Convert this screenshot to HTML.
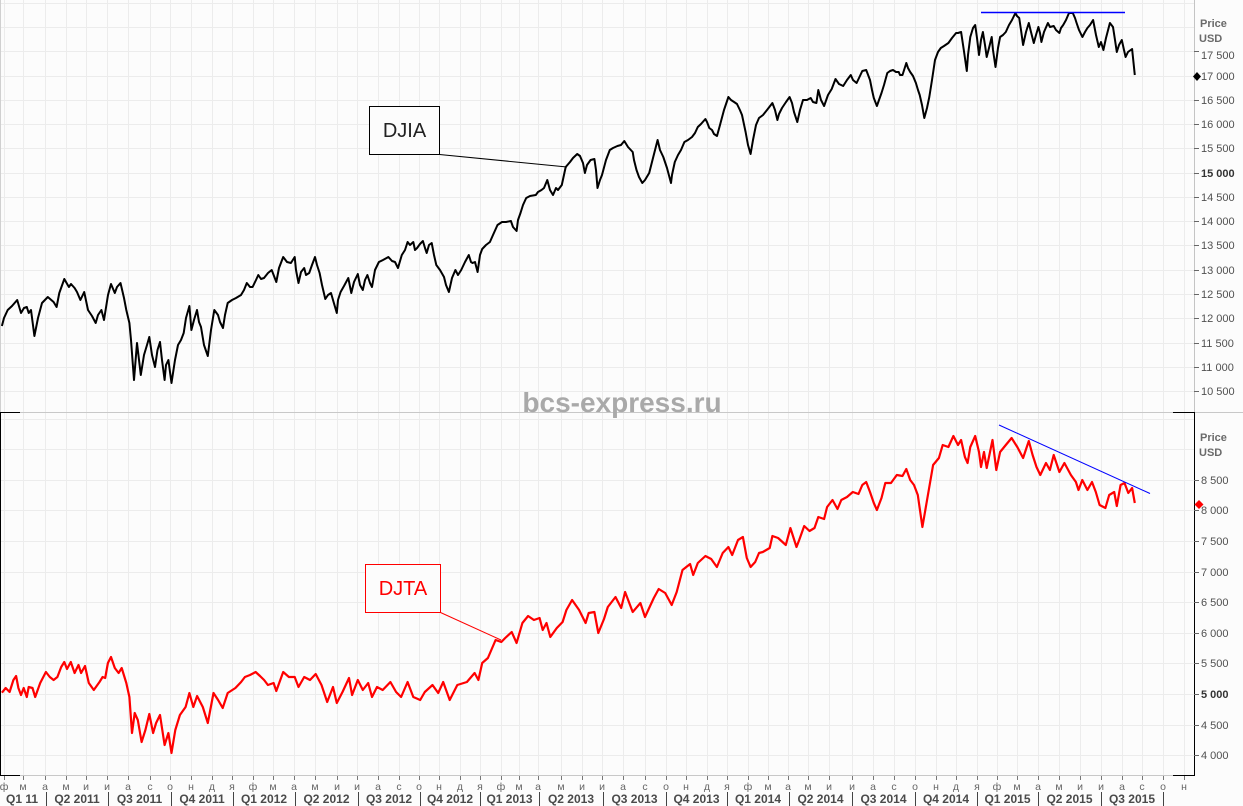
<!DOCTYPE html>
<html><head><meta charset="utf-8"><style>
html,body{margin:0;padding:0;background:#fcfcfc;}
svg{display:block;}
text{font-family:"Liberation Sans",sans-serif;}
</style></head><body>
<svg width="1243" height="806" viewBox="0 0 1243 806" xmlns="http://www.w3.org/2000/svg">
<rect x="0" y="0" width="1243" height="806" fill="#fcfcfc"/>
<g stroke="#ececec" stroke-width="1" shape-rendering="crispEdges" fill="none">
<path d="M4.5 0V775M23.5 0V775M45.5 0V775M66.5 0V775M86.5 0V775M107.5 0V775M128.5 0V775M150.5 0V775M170.5 0V775M191.5 0V775M212.5 0V775M232.5 0V775M253.5 0V775M273.5 0V775M294.5 0V775M315.5 0V775M337.5 0V775M357.5 0V775M378.5 0V775M399.5 0V775M419.5 0V775M439.5 0V775M460.5 0V775M480.5 0V775M501.5 0V775M519.5 0V775M538.5 0V775M561.5 0V775M582.5 0V775M602.5 0V775M623.5 0V775M645.5 0V775M666.5 0V775M686.5 0V775M707.5 0V775M727.5 0V775M748.5 0V775M768.5 0V775M788.5 0V775M808.5 0V775M829.5 0V775M852.5 0V775M873.5 0V775M894.5 0V775M915.5 0V775M936.5 0V775M956.5 0V775M977.5 0V775M997.5 0V775M1017.5 0V775M1038.5 0V775M1059.5 0V775M1080.5 0V775M1101.5 0V775M1122.5 0V775M1142.5 0V775M1163.5 0V775M1184.5 0V775"/>
<path d="M0 3.5H1194M0 27.5H1194M0 51.5H1194M0 76.5H1194M0 100.5H1194M0 124.5H1194M0 148.5H1194M0 173.5H1194M0 197.5H1194M0 221.5H1194M0 245.5H1194M0 270.5H1194M0 294.5H1194M0 318.5H1194M0 343.5H1194M0 367.5H1194M0 391.5H1194"/>
<path d="M0 419.5H1194M0 449.5H1194M0 480.5H1194M0 510.5H1194M0 541.5H1194M0 572.5H1194M0 602.5H1194M0 633.5H1194M0 663.5H1194M0 694.5H1194M0 725.5H1194M0 755.5H1194"/>
</g>
<!-- separators / axes -->
<g shape-rendering="crispEdges" fill="none">
<line x1="0" y1="412.5" x2="1243" y2="412.5" stroke="#c8c8c8"/>
<line x1="0.5" y1="0" x2="0.5" y2="412" stroke="#d0d0d0" stroke-width="1"/>
<line x1="1194.5" y1="0" x2="1194.5" y2="412" stroke="#c4c4c4"/>
<line x1="0" y1="775.5" x2="1194" y2="775.5" stroke="#c8c8c8"/>
<path d="M0.5 412V776M1194.5 412V776M0 412.5H20M1173 412.5H1195M0 775.5H20M1173 775.5H1195" stroke="#000"/>
</g>
<!-- watermark -->
<text x="622" y="412" font-size="28" font-weight="bold" fill="#a9a9a9" text-anchor="middle">bcs-express.ru</text>
<!-- DJIA series -->
<polyline fill="none" stroke="#000" stroke-width="2" stroke-linejoin="round" points="1.9,326 4,318 7.7,310 12,306 17.2,300 21,313 24,308 26.8,307 28.7,313 31,310 34.4,336 38,318 42,303 47.8,297 53.6,302 56.6,307 59.3,293 64.3,279 68.9,287 71,284 74.6,288 77,292 80.4,300 84.2,292 88,310 92,316 95.7,323 98,315 101.4,310 104,320 108,295 111,284 114.8,293 117,287 120.5,283 124,298 126.3,310 129.4,323 131,340 134,380 137,343 140.8,375 144,355 147,345 149.3,337 152,355 155,367 157.5,350 160,342 162,360 164.6,380 166,365 168.4,360 170,372 171.5,383 175,360 178,345 181,340 183.7,333 186,318 189.4,306 191.4,330 194,320 197,310 199,322 201,327 204,345 207.8,356 211,330 214.3,310 218,315 220,322 223,328 225,315 227.7,303 232,300 236,298 241,295 244,290 246.8,283 250,287 252.6,287 256,280 258.3,275 261,279 264,278 268,273 271.7,270 276.3,282 279,268 283.2,257 287,262 290.9,263 294.7,257 296,270 298.5,283 301,272 304.2,268 306,275 309.2,273 312,265 315,257 317,265 319.6,273 322,285 325.3,299 328,295 331,293 333,300 336.8,313 338,300 340.6,292 344,286 348.3,278 351.3,293 354,282 357.8,274 360,285 362.8,290 365,280 367.4,275 370,283 372,287 375,270 378.9,262 383,260 388.4,257 392,261 395,262 398,268 401.8,255 405,250 407.6,242 410,245 413.3,242 415,250 417.1,248 420,244 422.9,241 425,248 426.7,253 429,245 431.7,243 434,255 436.3,265 440,270 444,277 446,285 448.9,292 452,278 455.4,270 458,275 461.2,270 465,262 468.8,255 471,262 472.6,263 475,262 477.6,272 480,255 482.2,249 486,245 489.9,242 493,235 497.5,225 502,222 506,222 510.9,221 513,227 516.6,231 518,220 520.5,213 523,205 526.2,198 530,196 535.8,195 538,192 541.5,190 544,188 547.3,180 550,190 553,195 556,188 558,190 561.8,185 565.7,167 570,162 573,158 577.2,154 580,156 583,163 584.9,173 587,165 590.6,160 594.4,159 596,170 597.5,188 600,180 602,175 606,160 609.8,150 613,148 617.4,146 621,145 624.3,141 628,147 632.7,152 634,160 636.5,170 639,177 642.3,183 645,180 649.2,173 653,158 657.6,140 660,150 663.3,157 667,168 671,183 672,175 674.8,162 678,155 681,150 684.4,142 688,140 692,137 695,133 697.8,127 701,124 705.4,119 707,122 709.3,128 712,130 714,134 717,136 720,125 724,110 728.4,97 731,100 734.1,102 737,104 739.9,110 742,115 745.6,132 748,145 750.6,154 753,140 756,125 759,118 763,115 767,110 772.4,103 775,110 777.4,120 779,114 782,108 786,102 789.6,97 792,103 794,112 797.3,122 800,110 803,100 807,100 810.7,98 813,102 816.4,103 818.3,90 821,100 824.1,106 828,95 831.7,89 835.5,79 839,84 843.2,86 847,80 850.8,75 853,80 856.6,83 859,78 862.3,71 866.2,70 870,80 872,90 873.8,98 876.9,106 879,100 881.5,93 884,85 887.3,73 890,71 893,70 896,72 898.7,72 900,75 902.5,75 906.3,63 908,68 910.2,72 913,76 915.9,83 918,90 919.7,95 922,105 924.3,118 927,108 929.3,97 932,80 935,60 938,52 940.8,48 944,46 948.4,43 952,38 956.1,33 958,33 961.1,32 963.8,50 966.8,71 968,55 970.3,37 973,28 975.2,25 977,38 979,55 981,40 982.9,32 985,45 986.7,57 989,48 991.7,37 993,50 995.5,67 998,48 1000.1,37 1003,35 1005.8,32 1009,25 1012,20 1015.4,13 1017,16 1019.2,18 1021,30 1023.1,45 1026,32 1028.8,23 1031,32 1033.8,43 1036,35 1038.4,27 1040,33 1041.4,42 1044,32 1047.9,23 1050,27 1053.7,26 1056,30 1059.4,33 1061,28 1063.2,25 1066,20 1069,13 1072.8,13 1075,18 1076.6,23 1079,30 1082.4,37 1085,32 1087.4,28 1090,25 1093.1,20 1096,35 1098.8,47 1101,42 1103.4,50 1106,38 1109.9,23 1113,27 1115,40 1116.8,52 1119,45 1121.8,40 1124,50 1125.6,57 1128,52 1132.1,49 1134.8,75"/>
<!-- DJTA series -->
<polyline fill="none" stroke="#ff0000" stroke-width="2.2" stroke-linejoin="round" points="1.9,692.7 5.7,688 9.6,692 13.4,680 16.1,676 18.4,688 21,695 23.7,688 26.8,697 28.7,687 32.5,688 35.2,697 40.2,683 45.9,672 49.8,677 53.6,680 57.4,677 61.2,667 64.3,662 67,669 70.8,662 74.6,673 78.5,665 81.1,673 85,666 88.8,683 93.8,690 99.5,682 102.6,677 105.2,678 107.9,663 111,657 114.8,668 118.6,673 121.7,668 126.3,683 129.4,697 132,733 134.7,713 137.8,720 141.6,742 145.4,730 149.3,714 153.1,733 156.1,723 160,715 164.6,745 168.4,733 171.5,753 175.3,730 179.9,715 185.6,707 189.4,693 193.3,707 197.1,696 202.8,707 207.8,723 213.5,693 218.1,700 222.7,708 227.7,693 235.4,688 241.1,682 244.9,677 250,675 255.6,672 260,676 264.1,680 267.9,685 273.6,683 276.3,691 283.2,672 288.9,677 294.7,677 298.5,687 304.2,677 310,680 315.7,674 321.5,685 327.2,702 333,687 336.8,703 342.5,692 349,678 352.1,695 357.8,680 362.8,690 368.2,683 372,697 377,687 382.7,690 390.4,682 396.1,692 401.1,697 407.6,682 413.3,697 420.2,700 424.8,692 432.5,685 438.2,693 443.2,682 449.7,700 457.3,685 466.9,682 474.6,673 478.4,680 482.2,663 487.9,658 495.6,640 501.3,642 505.2,638 511.7,632 516.6,643 522.4,623 528.1,616 533.9,620 539.6,618 542.7,630 546.5,623 550.3,637 556.8,628 562.6,622 566.4,610 572.1,600 579.1,610 585.6,623 588.7,613 594.4,612 598.3,633 604,619 607.8,607 615.5,597 621.2,608 625.1,592 632.7,612 640.4,603 645,617 653.8,598 658.7,589 665.2,593 671.7,605 676.7,592 682.5,570 690.1,564 693.2,575 697.8,563 705.4,556 711.2,559 716.9,567 722.7,553 728.4,547 732.2,555 738,540 742.9,537 746.8,558 750.6,567 755.2,562 759,553 762.8,552 769.7,548 772.4,536 778.1,538 785.8,545 790.4,528 796.5,547 799.2,540 804.2,526 809.5,531 814.5,528 818.3,517 824.1,519 827.1,507 832.5,500 837.5,509 841.3,500 847,497 852.8,492 858.5,494 862.3,485 866.2,482 870,492 873.8,503 876.9,510 881.5,498 885.3,483 891,483 896.8,475 902.5,476 906.3,469 910.2,480 914,485 917.8,495 922.4,527 927.4,498 933.1,465 938.9,458 942.7,445 948.4,447 953.4,436 958,445 961.1,440 964.9,457 967.6,463 970.3,447 975.2,436 979,452 981,467 984,452 986.7,468 992.5,440 996.3,470 1000.1,452 1005.8,445 1011.6,438 1017.3,447 1023.1,458 1028.8,441 1032.6,455 1036.5,467 1040.3,475 1046,463 1049.9,470 1053.7,455 1059.4,472 1064.4,463 1070.9,475 1075.9,482 1078.5,490 1082.3,480 1087.4,490 1092,482 1095.8,492 1099.6,505 1105.4,508 1109.2,495 1114.2,492 1116.8,506 1120.6,485 1124.5,483 1128.3,493 1132.1,488 1134.8,503"/>
<!-- trend lines -->
<line x1="981" y1="12.5" x2="1125" y2="12.5" stroke="#0000ff" stroke-width="1.5"/>
<line x1="999" y1="425" x2="1150" y2="493.5" stroke="#0000ff" stroke-width="1"/>
<!-- annotations -->
<line x1="439.5" y1="154.5" x2="567" y2="167" stroke="#000" stroke-width="1"/>
<rect x="369.5" y="106.5" width="70" height="48" fill="#fcfcfc" stroke="#000" stroke-width="1"/>
<text x="404.5" y="137" font-size="20" fill="#222" text-anchor="middle">DJIA</text>
<line x1="440.5" y1="612.5" x2="501" y2="640" stroke="#ff0000" stroke-width="1"/>
<rect x="365.5" y="564.5" width="75" height="48" fill="#fcfcfc" stroke="#ff0000" stroke-width="1"/>
<text x="403" y="595" font-size="20" fill="#ff0000" text-anchor="middle">DJTA</text>
<!-- y-axis ticks -->
<g stroke="#666" shape-rendering="crispEdges">
<path d="M1194 51.5h5M1194 76.5h5M1194 100.5h5M1194 124.5h5M1194 148.5h5M1194 173.5h5M1194 197.5h5M1194 221.5h5M1194 245.5h5M1194 270.5h5M1194 294.5h5M1194 318.5h5M1194 343.5h5M1194 367.5h5M1194 391.5h5"/>
<path d="M1194 480.5h5M1194 510.5h5M1194 541.5h5M1194 572.5h5M1194 602.5h5M1194 633.5h5M1194 663.5h5M1194 694.5h5M1194 725.5h5M1194 755.5h5"/>
</g>
<g font-size="11" fill="#505050">
<text x="1200" y="27" font-weight="bold" fill="#6a6a6a">Price</text>
<text x="1199" y="42" font-weight="bold" fill="#6a6a6a">USD</text>
<text x="1201" y="59">17 500</text>
<text x="1201" y="80">17 000</text>
<text x="1201" y="104">16 500</text>
<text x="1201" y="128">16 000</text>
<text x="1201" y="152">15 500</text>
<text x="1201" y="177" font-weight="bold" fill="#333">15 000</text>
<text x="1201" y="201">14 500</text>
<text x="1201" y="225">14 000</text>
<text x="1201" y="249">13 500</text>
<text x="1201" y="274">13 000</text>
<text x="1201" y="298">12 500</text>
<text x="1201" y="322">12 000</text>
<text x="1201" y="347">11 500</text>
<text x="1201" y="371">11 000</text>
<text x="1201" y="395">10 500</text>
<text x="1200" y="441" font-weight="bold" fill="#6a6a6a">Price</text>
<text x="1199" y="456" font-weight="bold" fill="#6a6a6a">USD</text>
<text x="1201" y="484">8 500</text>
<text x="1201" y="514">8 000</text>
<text x="1201" y="545">7 500</text>
<text x="1201" y="576">7 000</text>
<text x="1201" y="606">6 500</text>
<text x="1201" y="637">6 000</text>
<text x="1201" y="667">5 500</text>
<text x="1201" y="698" font-weight="bold" fill="#333">5 000</text>
<text x="1201" y="729">4 500</text>
<text x="1201" y="759">4 000</text>
</g>
<!-- last value markers -->
<path d="M1197 72L1201 76.5L1197 81L1193 76.5Z" fill="#000"/>
<path d="M1199 500L1203.5 504.5L1199 509L1194.5 504.5Z" fill="#ff0000"/>
<!-- x-axis month ticks -->
<path stroke="#777" shape-rendering="crispEdges" d="M4.5 776v4M23.5 776v4M45.5 776v4M66.5 776v4M86.5 776v4M107.5 776v4M128.5 776v4M150.5 776v4M170.5 776v4M191.5 776v4M212.5 776v4M232.5 776v4M253.5 776v4M273.5 776v4M294.5 776v4M315.5 776v4M337.5 776v4M357.5 776v4M378.5 776v4M399.5 776v4M419.5 776v4M439.5 776v4M460.5 776v4M480.5 776v4M501.5 776v4M519.5 776v4M538.5 776v4M561.5 776v4M582.5 776v4M602.5 776v4M623.5 776v4M645.5 776v4M666.5 776v4M686.5 776v4M707.5 776v4M727.5 776v4M748.5 776v4M768.5 776v4M788.5 776v4M808.5 776v4M829.5 776v4M852.5 776v4M873.5 776v4M894.5 776v4M915.5 776v4M936.5 776v4M956.5 776v4M977.5 776v4M997.5 776v4M1017.5 776v4M1038.5 776v4M1059.5 776v4M1080.5 776v4M1101.5 776v4M1122.5 776v4M1142.5 776v4M1163.5 776v4M1184.5 776v4"/>
<g font-size="10.5" fill="#666" text-anchor="middle">
<text x="4" y="790">ф</text><text x="23" y="790">м</text><text x="45" y="790">а</text><text x="66" y="790">м</text><text x="86" y="790">и</text><text x="107" y="790">и</text><text x="128" y="790">а</text><text x="150" y="790">с</text><text x="170" y="790">о</text><text x="191" y="790">н</text><text x="212" y="790">д</text><text x="232" y="790">я</text>
<text x="253" y="790">ф</text><text x="273" y="790">м</text><text x="294" y="790">а</text><text x="315" y="790">м</text><text x="337" y="790">и</text><text x="357" y="790">и</text><text x="378" y="790">а</text><text x="399" y="790">с</text><text x="419" y="790">о</text><text x="439" y="790">н</text><text x="460" y="790">д</text><text x="480" y="790">я</text>
<text x="501" y="790">ф</text><text x="519" y="790">м</text><text x="538" y="790">а</text><text x="561" y="790">м</text><text x="582" y="790">и</text><text x="602" y="790">и</text><text x="623" y="790">а</text><text x="645" y="790">с</text><text x="666" y="790">о</text><text x="686" y="790">н</text><text x="707" y="790">д</text><text x="727" y="790">я</text>
<text x="748" y="790">ф</text><text x="768" y="790">м</text><text x="788" y="790">а</text><text x="808" y="790">м</text><text x="829" y="790">и</text><text x="852" y="790">и</text><text x="873" y="790">а</text><text x="894" y="790">с</text><text x="915" y="790">о</text><text x="936" y="790">н</text><text x="956" y="790">д</text><text x="977" y="790">я</text>
<text x="997" y="790">ф</text><text x="1017" y="790">м</text><text x="1038" y="790">а</text><text x="1059" y="790">м</text><text x="1080" y="790">и</text><text x="1101" y="790">и</text><text x="1122" y="790">а</text><text x="1142" y="790">с</text><text x="1163" y="790">о</text><text x="1184" y="790">н</text>
</g>
<!-- quarter separators -->
<path stroke="#444" shape-rendering="crispEdges" d="M46.5 792V806M108.5 792V806M171.5 792V806M233.5 792V806M295.5 792V806M358.5 792V806M420.5 792V806M480.5 792V806M539.5 792V806M603.5 792V806M666.5 792V806M727.5 792V806M789.5 792V806M852.5 792V806M915.5 792V806M977.5 792V806M1038.5 792V806M1101.5 792V806M1163.5 792V806"/>
<g font-size="12" font-weight="bold" fill="#4a4a4a" text-anchor="middle">
<text x="22" y="803">Q1 11</text>
<text x="77" y="803">Q2 2011</text>
<text x="139.5" y="803">Q3 2011</text>
<text x="202" y="803">Q4 2011</text>
<text x="264" y="803">Q1 2012</text>
<text x="326.5" y="803">Q2 2012</text>
<text x="389" y="803">Q3 2012</text>
<text x="450" y="803">Q4 2012</text>
<text x="509.5" y="803">Q1 2013</text>
<text x="571" y="803">Q2 2013</text>
<text x="634.5" y="803">Q3 2013</text>
<text x="696.5" y="803">Q4 2013</text>
<text x="758" y="803">Q1 2014</text>
<text x="820.5" y="803">Q2 2014</text>
<text x="883.5" y="803">Q3 2014</text>
<text x="946" y="803">Q4 2014</text>
<text x="1007.5" y="803">Q1 2015</text>
<text x="1069.5" y="803">Q2 2015</text>
<text x="1132" y="803">Q3 2015</text>
</g>
</svg>
</body></html>
